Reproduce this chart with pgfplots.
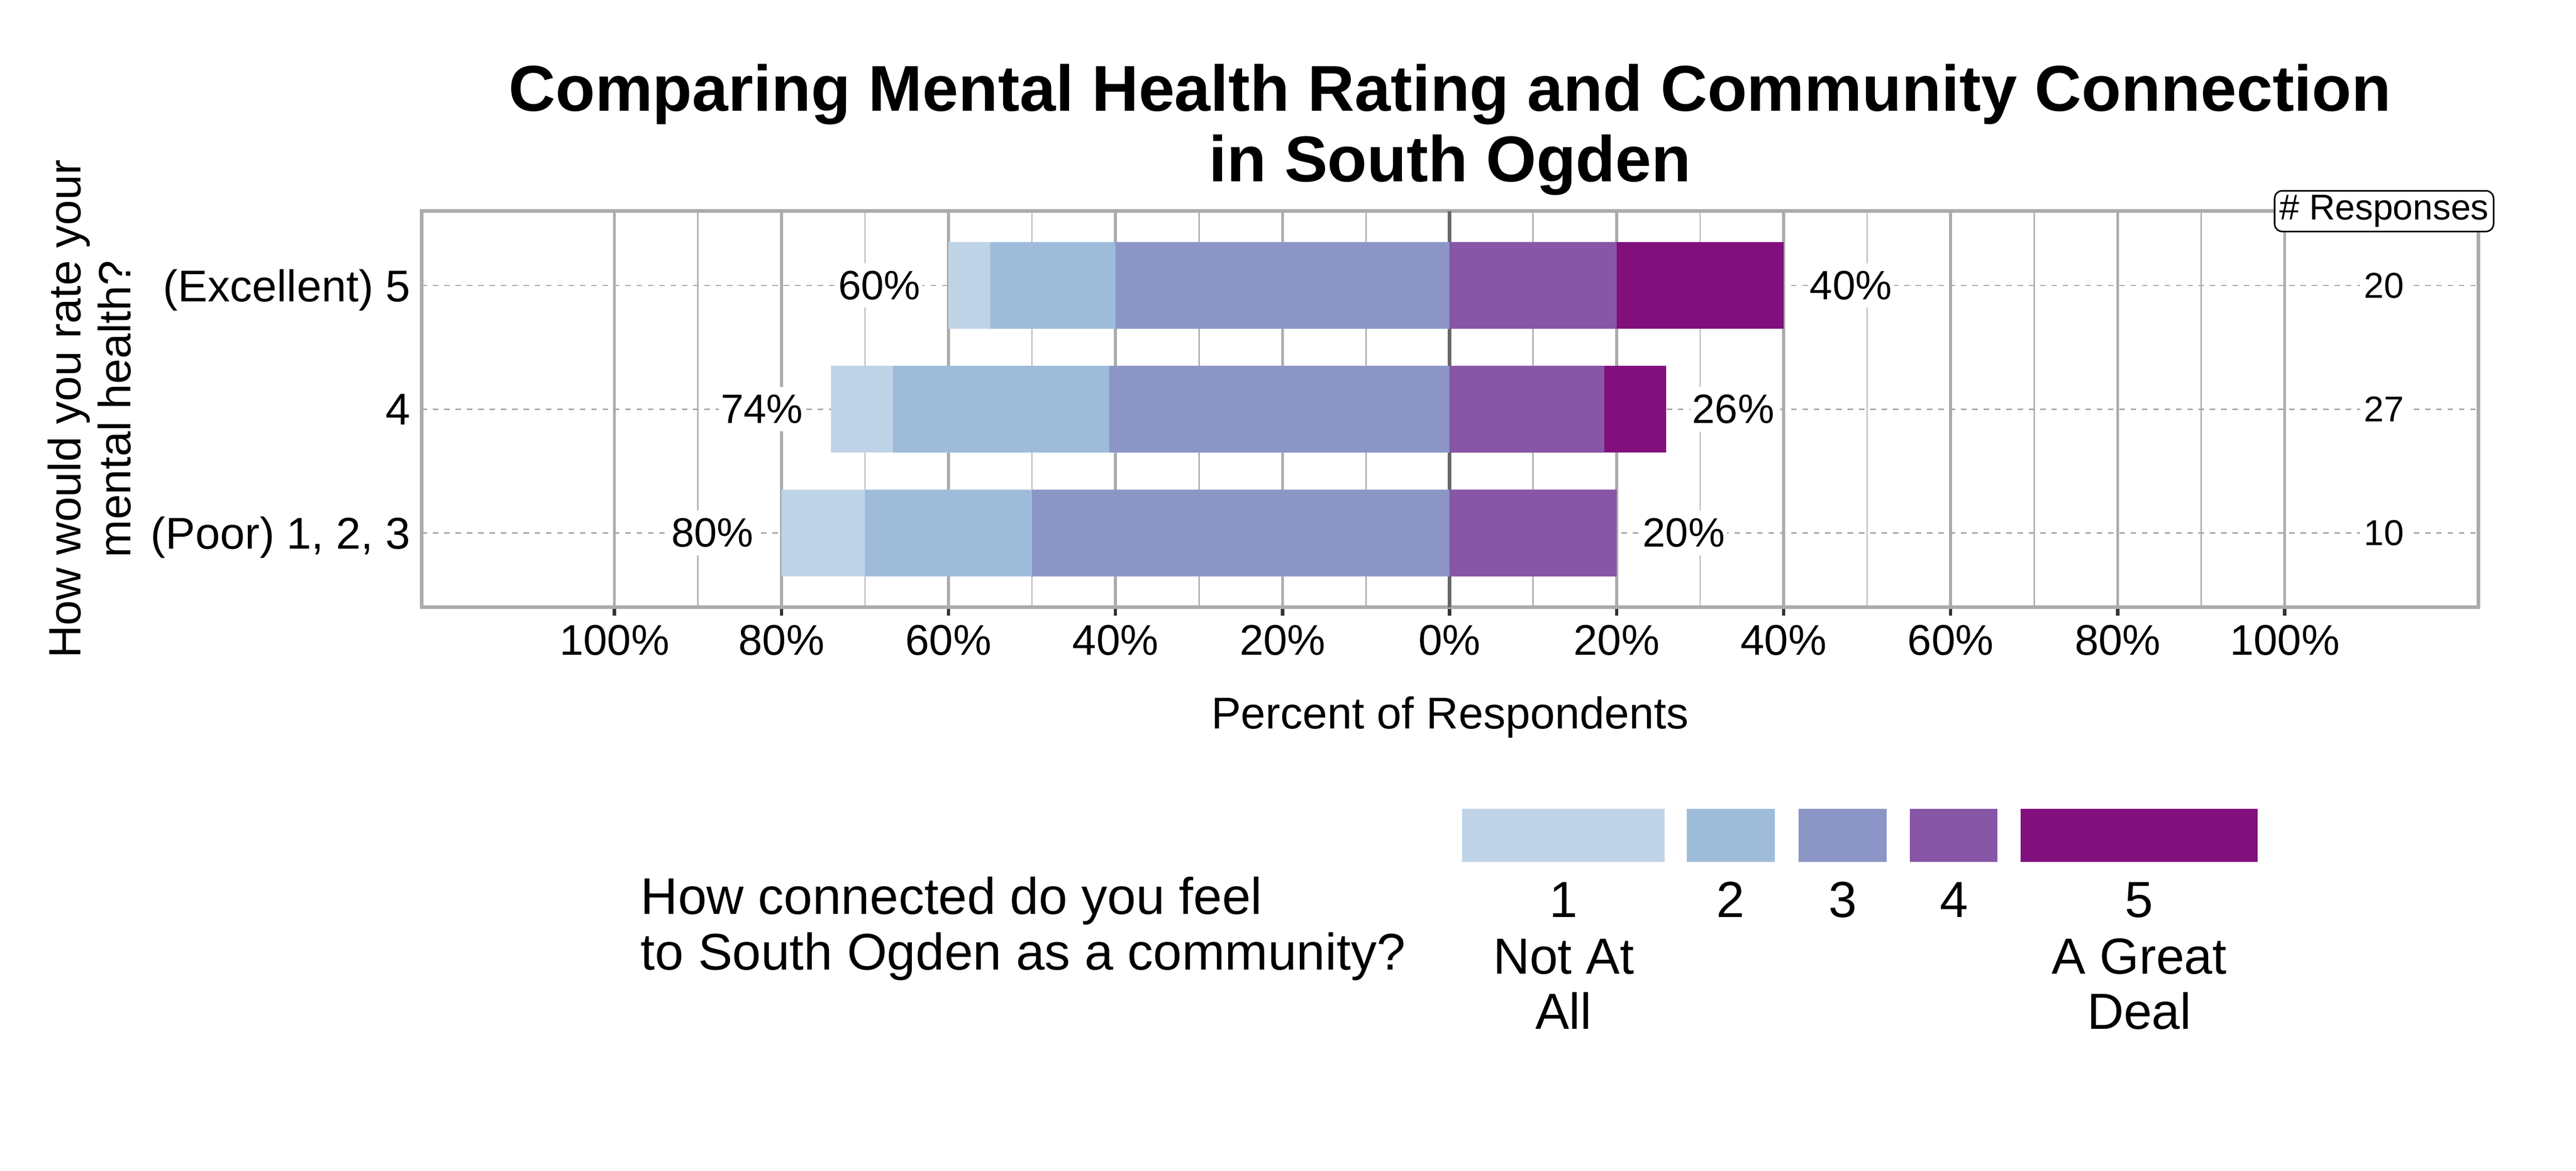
\documentclass[border=0pt]{standalone}
\usepackage{fontspec}
\setmainfont{Liberation Sans}
\usepackage{pgfplots}
\usepackage{pgfplotstable}
\pgfplotsset{compat=1.18}
\definecolor{cA}{HTML}{BFD3E6}
\definecolor{cB}{HTML}{9EBCDA}
\definecolor{cC}{HTML}{8C96C6}
\definecolor{cD}{HTML}{8856A7}
\definecolor{cE}{HTML}{810F7C}
\definecolor{border}{HTML}{ABABAB}
\definecolor{gridmaj}{HTML}{ABABAB}
\definecolor{gridmin}{HTML}{B3B3B3}
\definecolor{griddash}{HTML}{A8A8A8}
\definecolor{zeroline}{HTML}{666666}
\definecolor{tickc}{HTML}{333333}
\newcommand{\fs}[2]{\fontsize{#1}{#2}\selectfont}

% rows: 1 = (Poor) 1,2,3 ; 2 = 4 ; 3 = (Excellent) 5
% bar ends (percent of respondents, cumulative from 0%):
% e1 = end of answer 1 (left), e2 = end of answer 2, e3 = end of answer 3,
% e4 = end of answer 4 (right), e5 = end of answer 5
\pgfplotstableread{
y e1 e2 e3 e4 e5
1 -80 -70 -50 20 20
2 -74.074 -66.667 -40.741 18.519 25.926
3 -60 -55 -40 20 40
}\data

\begin{document}
\begin{tikzpicture}[x=1pt,y=1pt, lbl/.style={fill=white, inner xsep=0.5pt, inner ysep=2pt, font=\fs{10.5}{12}}]
\path[use as bounding box] (0pt,0pt) rectangle (660pt,300pt);
\begin{axis}[
 at={(108pt,144.4pt)}, anchor=south west,
 width=527pt, height=101.5pt, scale only axis,
 xmin=-123.1, xmax=123.2, ymin=0.4, ymax=3.6,
 xbar, bar width=22.2pt,
 axis line style={draw=border, line width=0.9pt},
 xtick={-100,-80,...,100},
 xticklabels={100\%,80\%,60\%,40\%,20\%,0\%,20\%,40\%,60\%,80\%,100\%},
 minor xtick={-90,-70,...,90},
 ytick={1,2,3},
 yticklabels={{(Poor) 1, 2, 3},4,{(Excellent) 5}},
 xtick pos=bottom, ytick pos=left,
 tick align=outside, major tick length=2.2pt, minor tick length=0pt,
 x tick style={draw=tickc, line width=0.85pt},
 y tick style={draw=none},
 xmajorgrids, xminorgrids, ymajorgrids,
 major x grid style={draw=gridmaj, line width=0.75pt},
 minor x grid style={draw=gridmin, line width=0.35pt},
 major y grid style={draw=griddash, line width=0.33pt, dash pattern=on 1.4pt off 1.5pt},
 xticklabel style={font=\fs{11}{13}, inner ysep=0pt, yshift=-2.2pt},
 yticklabel style={font=\fs{11.4}{13}, inner xsep=0pt, xshift=-0.4pt, text depth=0pt},
 extra x ticks={0}, extra x tick labels={},
 extra x tick style={major x grid style={draw=zeroline, line width=0.85pt}, major tick length=0pt},
 clip=false,
]
\addplot[xbar, bar shift=0pt, draw=none, fill=cA] table[x=e1, y=y] {\data};
\addplot[xbar, bar shift=0pt, draw=none, fill=cB] table[x=e2, y=y] {\data};
\addplot[xbar, bar shift=0pt, draw=none, fill=cC] table[x=e3, y=y] {\data};
\addplot[xbar, bar shift=0pt, draw=none, fill=cE] table[x=e5, y=y] {\data};
\addplot[xbar, bar shift=0pt, draw=none, fill=cD] table[x=e4, y=y] {\data};

\node[lbl, anchor=east, xshift=-6.5pt] at (axis cs:-80,1) {80\%};
\node[lbl, anchor=east, xshift=-6.5pt] at (axis cs:-74.074,2) {74\%};
\node[lbl, anchor=east, xshift=-6.5pt] at (axis cs:-60,3) {60\%};
\node[lbl, anchor=west, xshift=6pt] at (axis cs:20,1) {20\%};
\node[lbl, anchor=west, xshift=6pt] at (axis cs:25.926,2) {26\%};
\node[lbl, anchor=west, xshift=6pt] at (axis cs:40,3) {40\%};

\node[fill=white, inner xsep=1pt, inner ysep=2pt, font=\fs{9.2}{11}] at (axis cs:111.9,1) {10};
\node[fill=white, inner xsep=1pt, inner ysep=2pt, font=\fs{9.2}{11}] at (axis cs:111.9,2) {27};
\node[fill=white, inner xsep=1pt, inner ysep=2pt, font=\fs{9.2}{11}] at (axis cs:111.9,3) {20};
\node[draw=black, fill=white, rounded corners=2pt, line width=0.4pt, inner xsep=1.2pt, inner ysep=1.1pt, font=\fs{9.2}{11}] at (axis cs:111.9,3.6) {\# Responses};
\end{axis}

% title
\node[anchor=base, font=\bfseries\fs{16.6}{18}] at (371.5pt,271.5pt) {Comparing Mental Health Rating and Community Connection};
\node[anchor=base, font=\bfseries\fs{16.6}{18}] at (371.5pt,253.5pt) {in South Ogden};
% y label
\node[anchor=base, rotate=90, font=\fs{11.6}{13}] at (20.7pt,195.2pt) {How would you rate your};
\node[anchor=base, rotate=90, font=\fs{11.6}{13}] at (33.5pt,195.2pt) {mental health?};
% x label
\node[anchor=base, font=\fs{11.4}{13}] at (371.5pt,113.3pt) {Percent of Respondents};

% legend
\fill[cA] (374.6pt,79.2pt) rectangle (426.5pt,92.7pt);
\fill[cB] (432.1pt,79.2pt) rectangle (454.7pt,92.7pt);
\fill[cC] (460.8pt,79.2pt) rectangle (483.4pt,92.7pt);
\fill[cD] (489.3pt,79.2pt) rectangle (511.8pt,92.7pt);
\fill[cE] (517.7pt,79.2pt) rectangle (578.4pt,92.7pt);
\begin{scope}[every node/.style={anchor=base, font=\fs{13}{14.3}}]
\node at (400.6pt,65.0pt) {1};
\node at (400.6pt,50.5pt) {Not At};
\node at (400.6pt,36.3pt) {All};
\node at (443.4pt,65.0pt) {2};
\node at (472.1pt,65.0pt) {3};
\node at (500.6pt,65.0pt) {4};
\node at (548.1pt,65.0pt) {5};
\node at (548.1pt,50.5pt) {A Great};
\node at (548.1pt,36.3pt) {Deal};
\end{scope}
\node[anchor=base west, inner sep=0pt, font=\fs{13.2}{14.3}] at (164.0pt,65.8pt) {How connected do you feel};
\node[anchor=base west, inner sep=0pt, font=\fs{13.2}{14.3}] at (164.0pt,51.5pt) {to South Ogden as a community?};
\end{tikzpicture}
\end{document}
